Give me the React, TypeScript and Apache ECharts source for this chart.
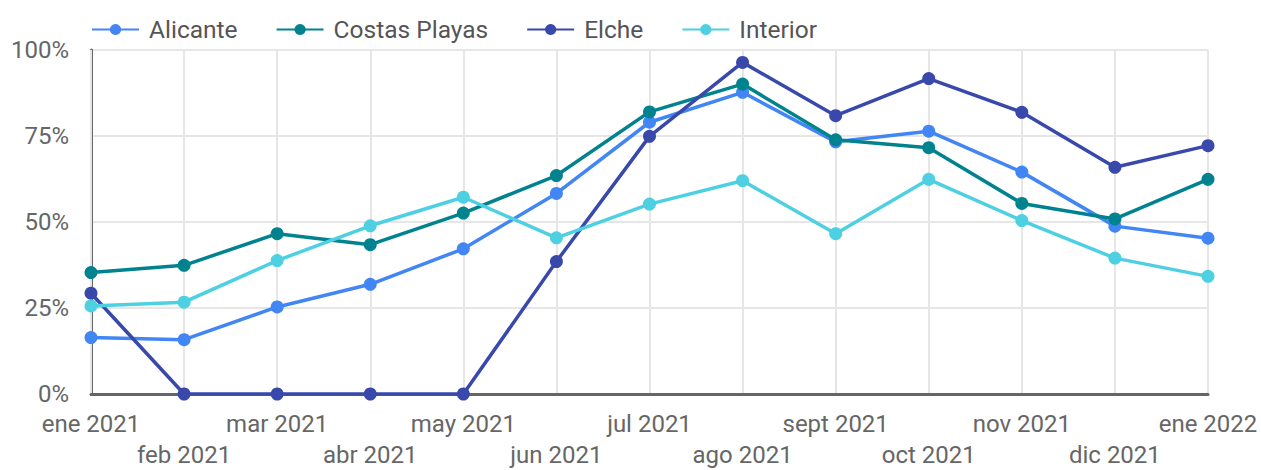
import React, { useEffect, useRef } from "react";
import * as echarts from "echarts";

const categories = [
  "ene 2021", "feb 2021", "mar 2021", "abr 2021", "may 2021", "jun 2021", "jul 2021",
  "ago 2021", "sept 2021", "oct 2021", "nov 2021", "dic 2021", "ene 2022",
];
const alicante = [16.4, 15.8, 25.3, 31.9, 42.2, 58.3, 79.0, 87.7, 73.3, 76.4, 64.5, 48.8, 45.3];
const costasPlayas = [35.3, 37.4, 46.6, 43.4, 52.6, 63.5, 82.0, 90.1, 73.9, 71.6, 55.4, 50.9, 62.4];
const elche = [29.3, 0, 0, 0, 0, 38.5, 74.9, 96.4, 80.9, 91.7, 81.9, 65.9, 72.2];
const interior = [25.6, 26.7, 38.8, 48.9, 57.2, 45.4, 55.2, 62.0, 46.6, 62.4, 50.4, 39.5, 34.2];
const yTicks = [0, 25, 50, 75, 100];

const seriesDefs = [
  { name: "Alicante", data: alicante, color: "#4285f4" },
  { name: "Costas Playas", data: costasPlayas, color: "#00838f" },
  { name: "Elche", data: elche, color: "#3949ab" },
  { name: "Interior", data: interior, color: "#4dd0e1" },
];

export default function App() {
  const ref = useRef<HTMLDivElement>(null);
  useEffect(() => {
    document.body.style.margin = "0";
    if (!ref.current) return;
    const chart = echarts.init(ref.current, undefined, { renderer: "svg" });
    const font = "Roboto";
    chart.setOption({
      animation: false,
      legend: {
        left: 86,
        top: 12,
        itemWidth: 47,
        itemHeight: 14,
        itemGap: 38,
        textStyle: { fontFamily: font, fontSize: 24.5, color: "#555", padding: [0, 0, 0, 5] },
        data: seriesDefs.map((s) => s.name),
      },
      grid: { left: 91, right: 53, top: 50, bottom: 66, containLabel: false },
      xAxis: {
        type: "category",
        data: categories,
        boundaryGap: false,
        axisLine: { show: true, lineStyle: { color: "#666", width: 3 } },
        axisTick: { show: false },
        axisLabel: {
          interval: 0,
          fontFamily: font,
          fontSize: 24,
          color: "#666",
          lineHeight: 31,
          margin: 14,
          formatter: (v: string, i: number) => (i % 2 ? "\n" + v : v),
        },
        splitLine: { show: true, lineStyle: { color: "#e6e6e6", width: 2 } },
        z: 3,
      },
      yAxis: {
        type: "value",
        min: yTicks[0],
        max: yTicks[yTicks.length - 1],
        interval: 25,
        axisLine: { show: true, lineStyle: { color: "#666", width: 3 } },
        axisTick: { show: false },
        axisLabel: {
          fontFamily: font,
          fontSize: 24,
          color: "#666",
          margin: 22,
          formatter: (v: number) => v + "%",
        },
        splitLine: { show: true, lineStyle: { color: "#e6e6e6", width: 2 } },
      },
      series: seriesDefs.map((s) => ({
        name: s.name,
        type: "line",
        data: s.data,
        symbol: "circle",
        symbolSize: 13,
        color: s.color,
        lineStyle: { width: 3.5, color: s.color },
        itemStyle: { color: s.color },
      })),
    });
    return () => chart.dispose();
  }, []);
  return <div ref={ref} style={{ width: 1261, height: 470 }} />;
}
